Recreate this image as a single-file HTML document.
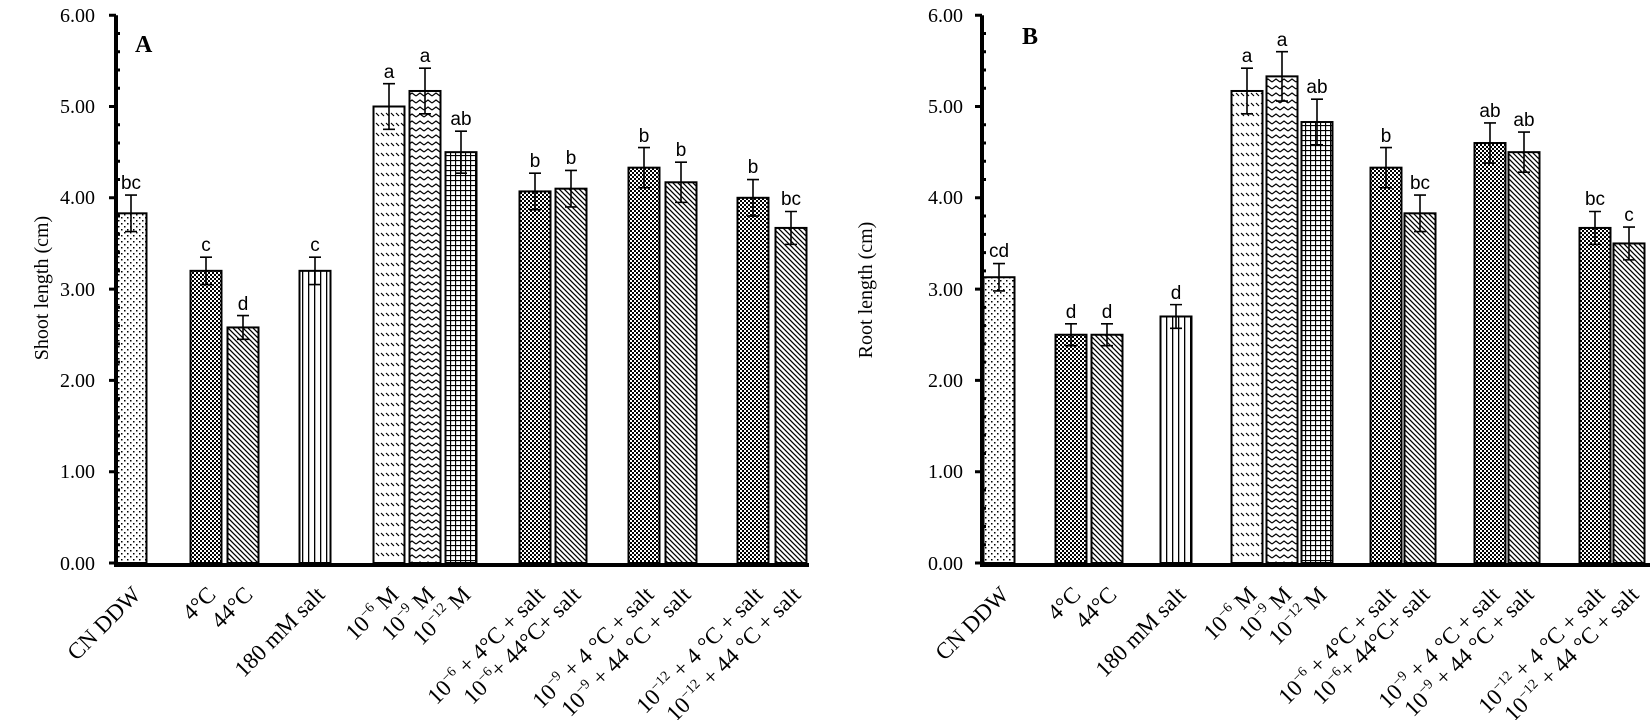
<!DOCTYPE html>
<html><head><meta charset="utf-8"><style>
body{margin:0;background:#fff}
svg{display:block}
.t{font-family:"Liberation Serif",serif;font-size:20px;fill:#000}
.l{font-family:"Liberation Sans",sans-serif;font-size:19px;fill:#000;text-anchor:middle}
.x{font-family:"Liberation Serif",serif;font-size:23px;fill:#000;text-anchor:end}
</style></head><body>
<svg id="s" width="1650" height="720" viewBox="0 0 1650 720" xmlns="http://www.w3.org/2000/svg">
<defs>
<pattern id="pdot" width="6" height="6" patternUnits="userSpaceOnUse"><rect width="6" height="6" fill="#fff"/><rect x="1" y="1" width="1.5" height="1.5" fill="#000"/><rect x="4" y="4" width="1.5" height="1.5" fill="#000"/></pattern>
<pattern id="pchk" width="4" height="4" patternUnits="userSpaceOnUse"><rect width="4" height="4" fill="#fff"/><rect width="2" height="2" fill="#000"/><rect x="2" y="2" width="2" height="2" fill="#000"/></pattern>
<pattern id="pdiag" width="5" height="5" patternUnits="userSpaceOnUse"><rect width="5" height="5" fill="#fff"/><path d="M0 0L5 5M-1 4L1 6M4 -1L6 1" stroke="#000" stroke-width="1.3"/></pattern>
<pattern id="pvert" width="6" height="6" patternUnits="userSpaceOnUse"><rect width="6" height="6" fill="#fff"/><rect x="2" width="1.3" height="6" fill="#000"/></pattern>
<pattern id="pwave" width="10" height="10" patternUnits="userSpaceOnUse"><rect width="10" height="10" fill="#fff"/><path d="M1 3L4 6M6 3L9 6" stroke="#000" stroke-width="1.2"/></pattern>
<pattern id="pzig" width="8" height="7" patternUnits="userSpaceOnUse"><rect width="8" height="7" fill="#fff"/><path d="M0 5L4 2L8 5" stroke="#000" stroke-width="1.2" fill="none"/></pattern>
<pattern id="pgrid" width="5" height="5" patternUnits="userSpaceOnUse"><rect width="5" height="5" fill="#fff"/><path d="M0 0.5H5M0.5 0V5" stroke="#000" stroke-width="1.3"/></pattern>
</defs>
<g id="g"></g>
<!-- Panel A -->
<text class="t" x="135" y="52" style="font-weight:bold;font-size:24px">A</text>
<text class="t" x="95" y="22" text-anchor="end">6.00</text>
<text class="t" x="95" y="113" text-anchor="end">5.00</text>
<text class="t" x="95" y="204" text-anchor="end">4.00</text>
<text class="t" x="95" y="296" text-anchor="end">3.00</text>
<text class="t" x="95" y="387" text-anchor="end">2.00</text>
<text class="t" x="95" y="478" text-anchor="end">1.00</text>
<text class="t" x="95" y="570" text-anchor="end">0.00</text>
<text class="t" transform="translate(48,288) rotate(-90)" text-anchor="middle">Shoot length (cm)</text>
<text class="l" x="131" y="189">bc</text>
<text class="l" x="206" y="251">c</text>
<text class="l" x="243" y="310">d</text>
<text class="l" x="315" y="251">c</text>
<text class="l" x="389" y="78">a</text>
<text class="l" x="425" y="62">a</text>
<text class="l" x="461" y="125">ab</text>
<text class="l" x="535" y="167">b</text>
<text class="l" x="571" y="164">b</text>
<text class="l" x="644" y="142">b</text>
<text class="l" x="681" y="156">b</text>
<text class="l" x="753" y="173">b</text>
<text class="l" x="791" y="205">bc</text>
<!-- Panel B -->
<text class="t" x="1022" y="44" style="font-weight:bold;font-size:24px">B</text>
<text class="t" x="963" y="22" text-anchor="end">6.00</text>
<text class="t" x="963" y="113" text-anchor="end">5.00</text>
<text class="t" x="963" y="204" text-anchor="end">4.00</text>
<text class="t" x="963" y="296" text-anchor="end">3.00</text>
<text class="t" x="963" y="387" text-anchor="end">2.00</text>
<text class="t" x="963" y="478" text-anchor="end">1.00</text>
<text class="t" x="963" y="570" text-anchor="end">0.00</text>
<text class="t" transform="translate(872,290) rotate(-90)" text-anchor="middle">Root length (cm)</text>
<text class="l" x="999" y="257">cd</text>
<text class="l" x="1071" y="318">d</text>
<text class="l" x="1107" y="318">d</text>
<text class="l" x="1176" y="299">d</text>
<text class="l" x="1247" y="62">a</text>
<text class="l" x="1282" y="46">a</text>
<text class="l" x="1317" y="93">ab</text>
<text class="l" x="1386" y="142">b</text>
<text class="l" x="1420" y="189">bc</text>
<text class="l" x="1490" y="117">ab</text>
<text class="l" x="1524" y="126">ab</text>
<text class="l" x="1595" y="205">bc</text>
<text class="l" x="1629" y="221">c</text>
<!-- x labels A -->
<text class="x" transform="translate(142,596) rotate(-45)">CN DDW</text>
<text class="x" transform="translate(217,596) rotate(-45)">4°C</text>
<text class="x" transform="translate(254,596) rotate(-45)">44°C</text>
<text class="x" transform="translate(326,596) rotate(-45)">180 mM salt</text>
<text class="x" transform="translate(400,596) rotate(-45)">10<tspan dy="-9" font-size="14">−6</tspan><tspan dy="9"> M</tspan></text>
<text class="x" transform="translate(436,596) rotate(-45)">10<tspan dy="-9" font-size="14">−9</tspan><tspan dy="9"> M</tspan></text>
<text class="x" transform="translate(472,596) rotate(-45)">10<tspan dy="-9" font-size="14">−12</tspan><tspan dy="9"> M</tspan></text>
<text class="x" transform="translate(546,596) rotate(-45)">10<tspan dy="-9" font-size="14">−6</tspan><tspan dy="9"> + 4°C + salt</tspan></text>
<text class="x" transform="translate(582,596) rotate(-45)">10<tspan dy="-9" font-size="14">−6</tspan><tspan dy="9">+ 44°C+ salt</tspan></text>
<text class="x" transform="translate(655,596) rotate(-45)">10<tspan dy="-9" font-size="14">−9</tspan><tspan dy="9"> + 4 °C + salt</tspan></text>
<text class="x" transform="translate(692,596) rotate(-45)">10<tspan dy="-9" font-size="14">−9</tspan><tspan dy="9"> + 44 °C + salt</tspan></text>
<text class="x" transform="translate(764,596) rotate(-45)">10<tspan dy="-9" font-size="14">−12</tspan><tspan dy="9"> + 4 °C + salt</tspan></text>
<text class="x" transform="translate(802,596) rotate(-45)">10<tspan dy="-9" font-size="14">−12</tspan><tspan dy="9"> + 44 °C + salt</tspan></text>
<!-- x labels B -->
<text class="x" transform="translate(1010,596) rotate(-45)">CN DDW</text>
<text class="x" transform="translate(1082,596) rotate(-45)">4°C</text>
<text class="x" transform="translate(1118,596) rotate(-45)">44°C</text>
<text class="x" transform="translate(1187,596) rotate(-45)">180 mM salt</text>
<text class="x" transform="translate(1258,596) rotate(-45)">10<tspan dy="-9" font-size="14">−6</tspan><tspan dy="9"> M</tspan></text>
<text class="x" transform="translate(1293,596) rotate(-45)">10<tspan dy="-9" font-size="14">−9</tspan><tspan dy="9"> M</tspan></text>
<text class="x" transform="translate(1328,596) rotate(-45)">10<tspan dy="-9" font-size="14">−12</tspan><tspan dy="9"> M</tspan></text>
<text class="x" transform="translate(1397,596) rotate(-45)">10<tspan dy="-9" font-size="14">−6</tspan><tspan dy="9"> + 4°C + salt</tspan></text>
<text class="x" transform="translate(1431,596) rotate(-45)">10<tspan dy="-9" font-size="14">−6</tspan><tspan dy="9">+ 44°C+ salt</tspan></text>
<text class="x" transform="translate(1501,596) rotate(-45)">10<tspan dy="-9" font-size="14">−9</tspan><tspan dy="9"> + 4 °C + salt</tspan></text>
<text class="x" transform="translate(1535,596) rotate(-45)">10<tspan dy="-9" font-size="14">−9</tspan><tspan dy="9"> + 44 °C + salt</tspan></text>
<text class="x" transform="translate(1606,596) rotate(-45)">10<tspan dy="-9" font-size="14">−12</tspan><tspan dy="9"> + 4 °C + salt</tspan></text>
<text class="x" transform="translate(1640,596) rotate(-45)">10<tspan dy="-9" font-size="14">−12</tspan><tspan dy="9"> + 44 °C + salt</tspan></text>
</svg>
<script>
(function(){
var NS="http://www.w3.org/2000/svg",g=document.getElementById("g");
function el(n,a){var e=document.createElementNS(NS,n);for(var k in a)e.setAttribute(k,a[k]);g.appendChild(e);return e;}
function Y(v){return 563-91.3*v;}
var pats=["pdot","pchk","pdiag","pvert","pwave","pzig","pgrid","pchk","pdiag","pchk","pdiag","pchk","pdiag"];
function panel(ax,xend,cs,vals,errs){
  for(var i=0;i<cs.length;i++){
    var c=cs[i],v=vals[i],e=errs[i];
    el("rect",{x:c-15.5,y:Y(v),width:31,height:Y(0)-Y(v),fill:"url(#"+pats[i]+")",stroke:"#000","stroke-width":2});
    el("path",{d:"M"+c+" "+Y(v+e)+"V"+Y(v-e)+"M"+(c-6)+" "+Y(v+e)+"H"+(c+6)+"M"+(c-6)+" "+Y(v-e)+"H"+(c+6),stroke:"#000","stroke-width":1.6,fill:"none"});
  }
  el("path",{d:"M"+ax+" "+Y(6)+"V"+(Y(0)+2)+"H"+xend,stroke:"#000","stroke-width":4,fill:"none"});
  var d="";
  for(var k=0;k<=30;k++){var y=Y(k*0.2);if(k%5==0)d+="M"+(ax-7)+" "+y+"H"+ax;else d+="M"+ax+" "+y+"H"+(ax+4);}
  el("path",{d:d,stroke:"#000","stroke-width":3,fill:"none"});
}
panel(116,809,[131,206,243,315,389,425,461,535,571,644,681,753,791],
 [3.83,3.2,2.58,3.2,5.0,5.17,4.5,4.07,4.1,4.33,4.17,4.0,3.67],
 [0.2,0.15,0.13,0.15,0.25,0.25,0.23,0.2,0.2,0.22,0.22,0.2,0.18]);
panel(982,1650,[999,1071,1107,1176,1247,1282,1317,1386,1420,1490,1524,1595,1629],
 [3.13,2.5,2.5,2.7,5.17,5.33,4.83,4.33,3.83,4.6,4.5,3.67,3.5],
 [0.15,0.12,0.12,0.13,0.25,0.27,0.25,0.22,0.2,0.22,0.22,0.18,0.18]);
})();
</script>
</body></html>
